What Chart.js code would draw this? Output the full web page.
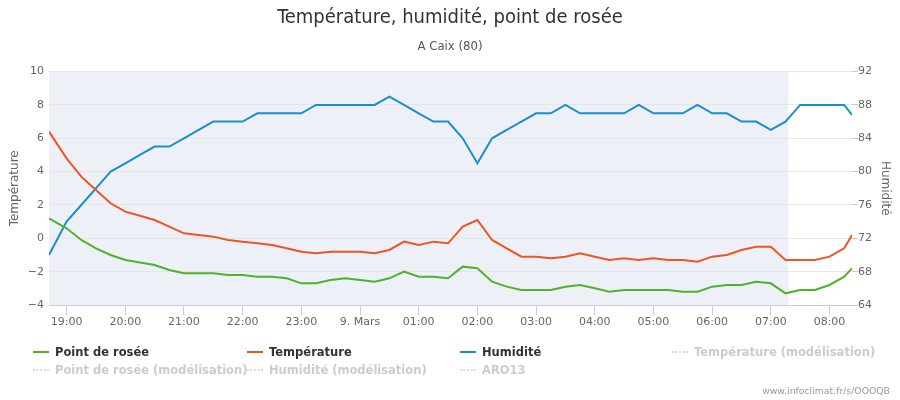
<!DOCTYPE html>
<html>
<head>
<meta charset="utf-8">
<script src="https://cdn.jsdelivr.net/npm/chart.js@4.4.1/dist/chart.umd.min.js"></script>
<style>
body { margin: 0; background: #fff; }
#wrap { position: relative; width: 900px; height: 400px; }
.item { position: absolute; font: bold 11.5px "DejaVu Sans", sans-serif; white-space: nowrap; height: 16px; line-height: 16px; color: #333; }
.item.off { color: #ccc; }
.sym { display: inline-block; width: 16px; height: 0; border-top: 2px solid; vertical-align: middle; margin-right: 6px; position: relative; top: -1px; }
.item.off .sym { border-top: 2px dotted #ddd; }
#credits { position: absolute; right: 10px; top: 385px; font: 9.3px "DejaVu Sans", sans-serif; color: #999; }
</style>
</head>
<body>
<div id="wrap">
  <canvas id="chart" width="900" height="400"></canvas>
  <div id="legend"></div>
  <div id="credits">www.infoclimat.fr/s/OOOQB</div>
</div>
<script>
// heures des relevés
const times = ['18:42','19:00','19:15','19:30','19:45','20:00','20:15','20:30','20:45','21:00','21:15','21:30','21:45','22:00','22:15','22:30','22:45','23:00','23:15','23:30','23:45',
  '00:00','00:15','00:30','00:45','01:00','01:15','01:30','01:45','02:00','02:15','02:30','02:45','03:00','03:15','03:30','03:45','04:00','04:15','04:30','04:45',
  '05:00','05:15','05:30','05:45','06:00','06:15','06:30','06:45','07:00','07:15','07:30','07:45','08:00','08:15','08:23'];

const temperature = [6.4, 4.8, 3.7, 2.9, 2.1, 1.6, 1.35, 1.1, 0.7, 0.3, 0.2, 0.1, -0.1, -0.2, -0.3, -0.4, -0.6, -0.8, -0.9, -0.8, -0.8,
  -0.8, -0.9, -0.7, -0.2, -0.4, -0.2, -0.3, 0.7, 1.1, -0.1, -0.6, -1.1, -1.1, -1.2, -1.1, -0.9, -1.1, -1.3, -1.2, -1.3,
  -1.2, -1.3, -1.3, -1.4, -1.1, -1.0, -0.7, -0.5, -0.5, -1.3, -1.3, -1.3, -1.1, -0.6, 0.2];

const dewPoint = [1.2, 0.6, -0.1, -0.6, -1.0, -1.3, -1.45, -1.6, -1.9, -2.1, -2.1, -2.1, -2.2, -2.2, -2.3, -2.3, -2.4, -2.7, -2.7, -2.5, -2.4,
  -2.5, -2.6, -2.4, -2.0, -2.3, -2.3, -2.4, -1.7, -1.8, -2.6, -2.9, -3.1, -3.1, -3.1, -2.9, -2.8, -3.0, -3.2, -3.1, -3.1,
  -3.1, -3.1, -3.2, -3.2, -2.9, -2.8, -2.8, -2.6, -2.7, -3.3, -3.1, -3.1, -2.8, -2.3, -1.8];

const humidity = [70, 74, 76, 78, 80, 81, 82, 83, 83, 84, 85, 86, 86, 86, 87, 87, 87, 87, 88, 88, 88,
  88, 88, 89, 88, 87, 86, 86, 84, 81, 84, 85, 86, 87, 87, 88, 87, 87, 87, 87, 88,
  87, 87, 87, 88, 87, 87, 86, 86, 85, 86, 88, 88, 88, 88, 86.8];

// graduations de l'axe x
const tickTimes = ['19:00','20:00','21:00','22:00','23:00','00:00','01:00','02:00','03:00','04:00','05:00','06:00','07:00','08:00'];
const tickLabels = ['19:00','20:00','21:00','22:00','23:00','9. Mars','01:00','02:00','03:00','04:00','05:00','06:00','07:00','08:00'];

// fin de la bande grisée (nuit)
const bandEnd = '07:18';

// minutes depuis 19:00
function toMin(s) {
    var p = s.split(':');
    var v = parseInt(p[0]) * 60 + parseInt(p[1]) - 19 * 60;
    if (v < -120) v += 1440;
    return v;
}

function pts(values) {
    return values.map((v, i) => ({ x: toMin(times[i]), y: v }));
}

const minus = v => String(v).replace('-', '\u2212');

const bandPlugin = {
    id: 'band',
    beforeDraw(chart) {
        const a = chart.chartArea;
        const x = chart.scales.x;
        const ctx = chart.ctx;
        ctx.save();
        ctx.fillStyle = '#EDF0F7';
        ctx.fillRect(a.left, a.top, x.getPixelForValue(toMin(bandEnd)) - a.left, a.bottom - a.top);
        ctx.restore();
    }
};

const htmlLegend = {
    id: 'htmlLegend',
    afterUpdate(chart) {
        const box = document.getElementById('legend');
        box.innerHTML = '';
        const cols = [33, 247, 460, 672];
        const rows = [344, 362];
        chart.data.datasets.forEach((ds, i) => {
            const item = document.createElement('div');
            item.className = 'item' + (ds.hidden ? ' off' : '');
            item.style.left = cols[i % 4] + 'px';
            item.style.top = rows[Math.floor(i / 4)] + 'px';
            item.innerHTML = `<span class="sym" style="border-top-color:${ds.borderColor}"></span>${ds.label}`;
            box.appendChild(item);
        });
    }
};

Chart.defaults.font.family = '"DejaVu Sans", sans-serif';
Chart.defaults.font.size = 11;
Chart.defaults.color = '#666';

const line = { borderWidth: 2, pointRadius: 0, tension: 0, fill: false };
const condensed = '"DejaVu Sans Condensed", "Liberation Sans Narrow", "DejaVu Sans", sans-serif';

new Chart(document.getElementById('chart'), {
    type: 'line',
    data: {
        datasets: [
            { ...line, label: 'Point de rosée', data: pts(dewPoint), borderColor: '#4FB32A', yAxisID: 'y' },
            { ...line, label: 'Température', data: pts(temperature), borderColor: '#EF5523', yAxisID: 'y' },
            { ...line, label: 'Humidité', data: pts(humidity), borderColor: '#1A8FCB', yAxisID: 'y1' },
            { ...line, label: 'Température (modélisation)', data: [], borderColor: '#ddd', yAxisID: 'y', hidden: true },
            { ...line, label: 'Point de rosée (modélisation)', data: [], borderColor: '#ddd', yAxisID: 'y', hidden: true },
            { ...line, label: 'Humidité (modélisation)', data: [], borderColor: '#ddd', yAxisID: 'y1', hidden: true },
            { ...line, label: 'ARO13', data: [], borderColor: '#ddd', yAxisID: 'y', hidden: true }
        ]
    },
    options: {
        responsive: false,
        animation: false,
        layout: { padding: { top: 0, bottom: 70, left: 0, right: 0 } },
        plugins: {
            legend: { display: false },
            tooltip: { enabled: false },
            title: {
                display: true,
                text: 'Température, humidité, point de rosée',
                color: '#333',
                font: { family: condensed, size: 20, weight: 'normal' },
                padding: { top: 6, bottom: 9 }
            },
            subtitle: {
                display: true,
                text: 'A Caix (80)',
                color: '#555',
                font: { family: condensed, size: 13 },
                padding: { top: 0, bottom: 17 }
            }
        },
        scales: {
            x: {
                type: 'linear',
                min: toMin(times[0]),
                max: toMin(times[times.length - 1]),
                afterBuildTicks: s => { s.ticks = tickTimes.map(t => ({ value: toMin(t) })); },
                ticks: { autoSkip: false, maxRotation: 0, padding: 1, callback: (v, i) => tickLabels[i] },
                grid: { drawOnChartArea: false, drawTicks: true, tickLength: 10, color: '#C0D0E0' },
                border: { color: '#C0D0E0' },
                afterFit: s => { s.height = 25; }
            },
            y: {
                position: 'left',
                min: -4,
                max: 10,
                ticks: { stepSize: 2, padding: 5, callback: v => minus(v) },
                grid: { color: '#E6E6E6', drawTicks: false },
                border: { display: false },
                title: { display: true, text: 'Température', color: '#666', font: { size: 12 }, padding: { top: 8, bottom: 0 } },
                afterFit: s => { s.width = 49; }
            },
            y1: {
                position: 'right',
                min: 64,
                max: 92,
                ticks: { stepSize: 4, padding: 0 },
                grid: { drawOnChartArea: false, drawTicks: true, tickLength: 6, color: '#ccc' },
                border: { display: false },
                title: { display: true, text: 'Humidité', color: '#666', font: { size: 12 }, padding: { top: 8, bottom: 0 } },
                afterFit: s => { s.width = 48; }
            }
        }
    },
    plugins: [bandPlugin, htmlLegend]
});
</script>
</body>
</html>
